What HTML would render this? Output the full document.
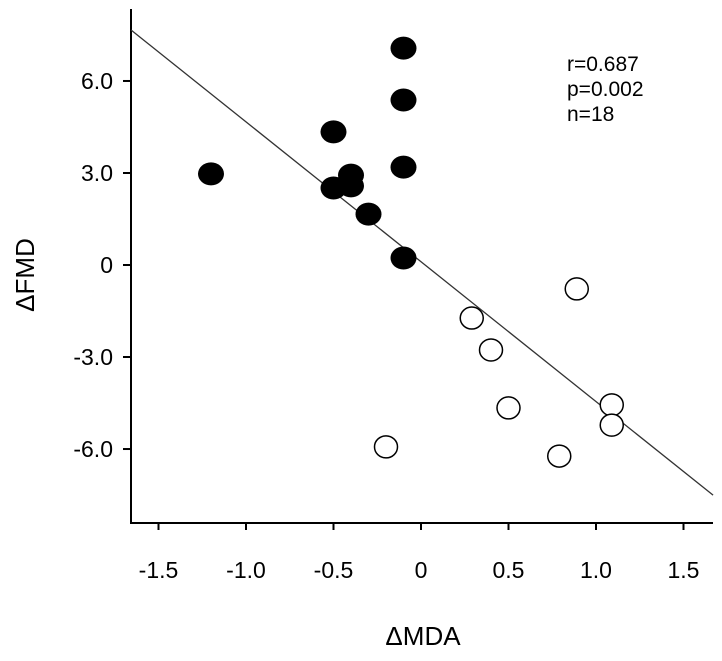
<!DOCTYPE html>
<html><head><meta charset="utf-8"><style>
html,body{margin:0;padding:0;background:#fff;}
svg{display:block;font-family:"Liberation Sans",Arial,sans-serif;}
</style></head><body>
<svg id="chart" width="722" height="661" viewBox="0 0 722 661" xmlns="http://www.w3.org/2000/svg">
<g id="axes"></g>
<g id="marks"></g>
<text x="567" y="71" font-size="21">r=0.687</text>
<text x="567" y="96" font-size="21">p=0.002</text>
<text x="567" y="121" font-size="21">n=18</text>
<text x="423" y="645" font-size="26" text-anchor="middle">ΔMDA</text>
<text x="0" y="0" font-size="26" text-anchor="middle" transform="translate(34,275) rotate(-90)">ΔFMD</text>
</svg>
<script>
const xTicks=[-1.5,-1.0,-0.5,0,0.5,1.0,1.5];
const xTickLabels=["-1.5","-1.0","-0.5","0","0.5","1.0","1.5"];
const yTicks=[6,3,0,-3,-6];
const yTickLabels=["6.0","3.0","0","-3.0","-6.0"];
const filledX=[-0.10,-0.10,-0.10,-0.10,-0.50,-1.20,-0.50,-0.40,-0.40,-0.30];
const filledY=[7.07,5.38,3.19,0.23,4.34,2.97,2.51,2.93,2.58,1.66];
const openX=[0.89,0.29,0.40,0.50,1.09,1.09,-0.20,0.79];
const openY=[-0.78,-1.73,-2.77,-4.66,-4.56,-5.22,-5.93,-6.23];
const fitSlope=-4.56;
const fitIntercept=0.107;
const xMin=-1.657,xMax=1.669;

const NS="http://www.w3.org/2000/svg";
const sx=v=>421+v*175;
const sy=v=>265-v*30.67;
function mk(t,a,p){const e=document.createElementNS(NS,t);for(const k in a)e.setAttribute(k,a[k]);p.appendChild(e);return e;}
const ax=document.getElementById('axes');
const mg=document.getElementById('marks');
let e;
e=mk('line',{x1:131,y1:9,x2:131,y2:523,stroke:'#000','stroke-width':2},ax);


e=mk('line',{x1:130,y1:523,x2:713,y2:523,stroke:'#000','stroke-width':2},ax);


xTicks.forEach((v,i)=>{
 let t=mk('line',{x1:sx(v),y1:523,x2:sx(v),y2:530,stroke:'#000','stroke-width':2},ax);
 
 
 let l=mk('text',{x:sx(v),y:578,'font-size':23,'text-anchor':'middle'},ax);
 l.textContent=xTickLabels[i];
 
 
});
yTicks.forEach((v,i)=>{
 let t=mk('line',{x1:123,y1:sy(v),x2:131,y2:sy(v),stroke:'#000','stroke-width':2},ax);
 
 
 let l=mk('text',{x:113,y:sy(v)+8,'font-size':23,'text-anchor':'end'},ax);
 l.textContent=yTickLabels[i];
 
 
});
e=mk('line',{x1:sx(xMin),y1:sy(fitIntercept+fitSlope*xMin),x2:sx(xMax),y2:sy(fitIntercept+fitSlope*xMax),stroke:'#333','stroke-width':1.3},mg);


filledX.forEach((v,i)=>{
 let c=mk('ellipse',{cx:sx(v),cy:sy(filledY[i]),rx:13,ry:11.5,fill:'#000'},mg);
 
 
});
openX.forEach((v,i)=>{
 let c=mk('ellipse',{cx:sx(v),cy:sy(openY[i]),rx:11.5,ry:11,fill:'#fff',stroke:'#000','stroke-width':1.5},mg);
 
 
});
</script>
</body></html>
